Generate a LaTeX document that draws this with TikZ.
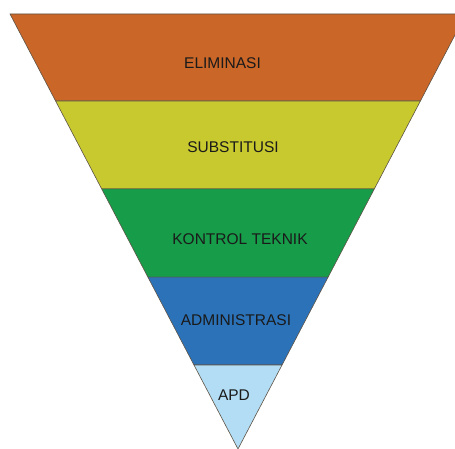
\documentclass[tikz,border=0pt]{standalone}
\usepackage{fontspec}
\setmainfont{Liberation Sans}
\usepackage{xcolor}
\definecolor{elim}{HTML}{CA6628}
\definecolor{subst}{HTML}{C8C92E}
\definecolor{kontrol}{HTML}{179C4A}
\definecolor{admin}{HTML}{2B72B9}
\definecolor{apd}{HTML}{B2DDF4}
\definecolor{ink}{HTML}{1A1A1A}
\definecolor{edge}{HTML}{5E5346}
\usetikzlibrary{calc}

\begin{document}
\begin{tikzpicture}[
  x=1pt,y=1pt,
  band/.style={draw=edge,line width=0.6pt,line join=miter},
  lbl/.style={font=\fontsize{15.5}{18}\selectfont,text=ink,inner sep=0pt},
]
\useasboundingbox (0,0) rectangle (455,449);
\clip (0,0) rectangle (455,449);

% outer triangle (right corner runs past the frame)
\coordinate (tl) at (10,435);
\coordinate (tr) at (466,435);
\coordinate (ap) at (238,0);
% band corners on both sides
\foreach \i/\t in {1/0.2,2/0.402,3/0.605,4/0.807}{
  \coordinate (l\i) at ($(tl)!\t!(ap)$);
  \coordinate (r\i) at ($(tr)!\t!(ap)$);
}

% bands, top to bottom
\filldraw[band,fill=elim]    (tl) -- (tr) -- (r1) -- (l1) -- cycle;
\filldraw[band,fill=subst]   (l1) -- (r1) -- (r2) -- (l2) -- cycle;
\filldraw[band,fill=kontrol] (l2) -- (r2) -- (r3) -- (l3) -- cycle;
\filldraw[band,fill=admin]   (l3) -- (r3) -- (r4) -- (l4) -- cycle;
\filldraw[band,fill=apd]     (l4) -- (r4) -- (ap) -- cycle;

% labels
\node[lbl] (elimtxt)    at (222.5,386) {ELIMINASI};
\node[lbl] (substtxt)   at (233,302)   {SUBSTITUSI};
\node[lbl] (kontroltxt) at (240,210)   {KONTROL TEKNIK};
\node[lbl] (admintxt)   at (236,129)   {ADMINISTRASI};
\node[lbl] (apdtxt)     at (234,54)    {APD};
\end{tikzpicture}
\end{document}
